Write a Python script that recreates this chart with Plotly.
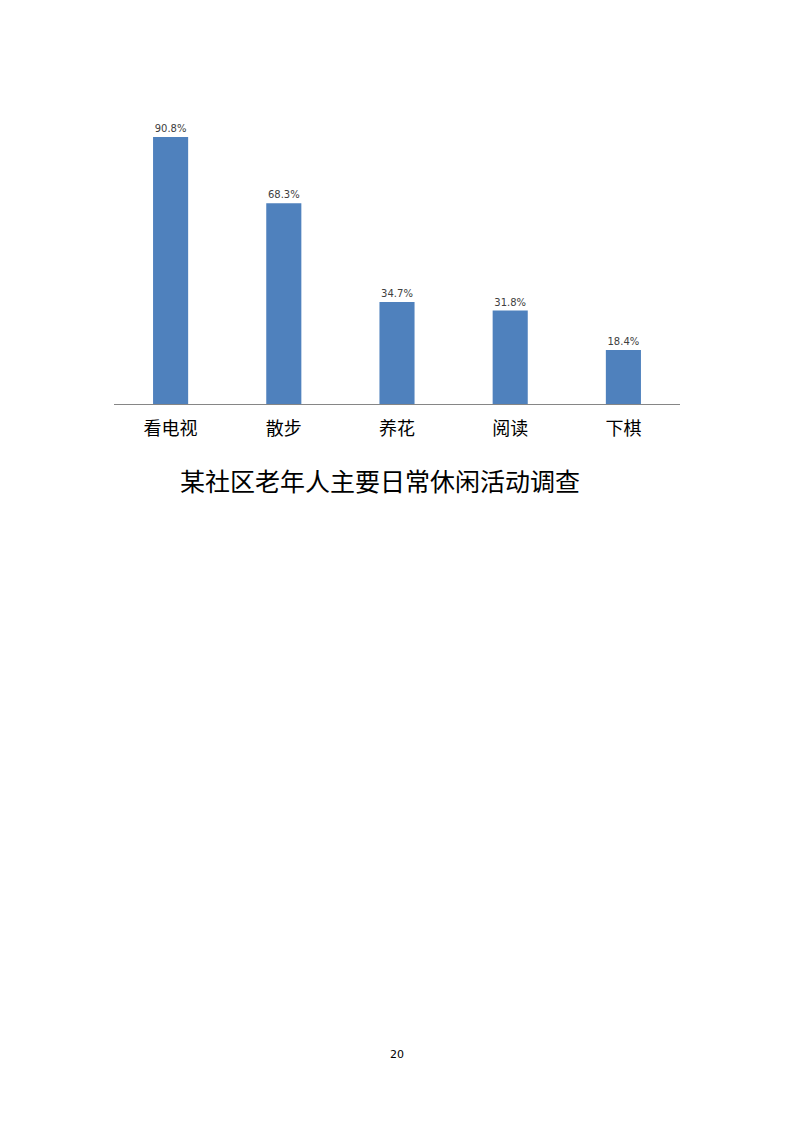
import plotly.graph_objects as go

# survey data
activities = ["看电视", "散步", "养花", "阅读", "下棋"]
share = [90.8, 68.3, 34.7, 31.8, 18.4]
share_labels = ["90.8%", "68.3%", "34.7%", "31.8%", "18.4%"]

title_text = "某社区老年人主要日常休闲活动调查"
page_no = "20"

fig = go.Figure()

fig.add_trace(go.Bar(
    x=activities,
    y=share,
    text=share_labels,
    textposition="outside",
    textfont=dict(size=10, color="#404040", family="DejaVu Sans"),
    marker=dict(color="#4F81BD", line=dict(width=0)),
    cliponaxis=False,
))

# title + page number sit below the plot area
fig.add_annotation(text=title_text, x=0.47, y=-0.2585, xref="paper", yref="paper",
                   yanchor="middle", showarrow=False,
                   font=dict(size=25, color="#000000", family="Noto Sans CJK SC"))
fig.add_annotation(text=page_no, x=0.5, y=-2.214, xref="paper", yref="paper",
                   yanchor="middle", showarrow=False,
                   font=dict(size=11, color="#000000", family="DejaVu Sans"))

fig.update_layout(
    width=800,
    height=1132,
    margin=dict(l=106, r=128, t=102, b=736),
    paper_bgcolor="white",
    plot_bgcolor="white",
    bargap=0.69,
    showlegend=False,
    font=dict(family="Noto Sans CJK SC"),
)
fig.update_xaxes(
    showline=True, linecolor="#868686", linewidth=1,
    showgrid=False, ticks="", ticklabelstandoff=8,
    tickfont=dict(size=18, color="#000000", family="Noto Sans CJK SC"),
)
fig.update_yaxes(range=[0, 100], visible=False, showgrid=False)

fig.write_html("out.html")
